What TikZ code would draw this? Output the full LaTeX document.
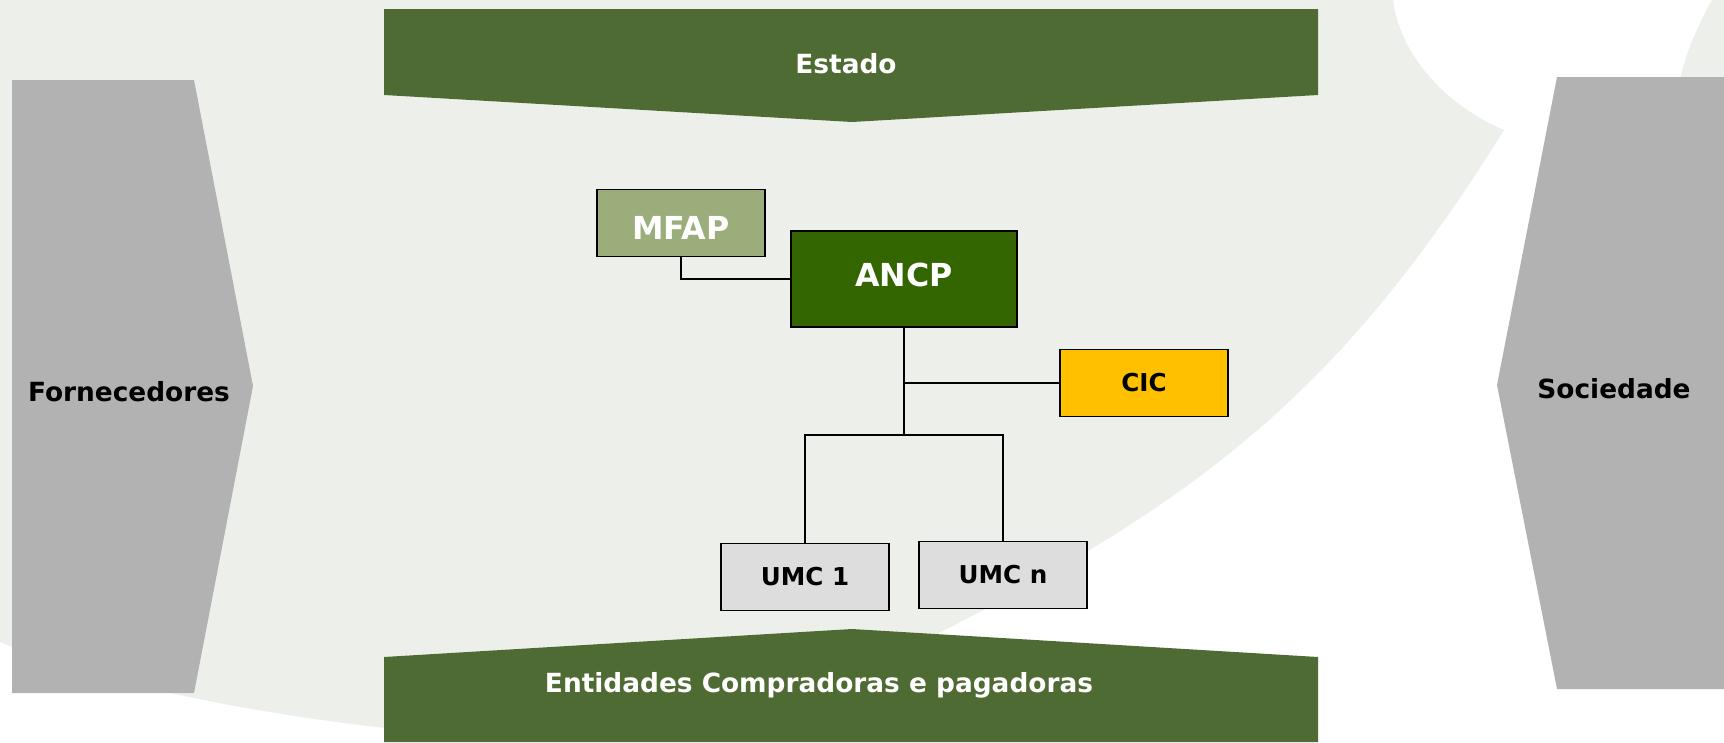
\documentclass[tikz,border=0pt]{standalone}
\usepackage{fontspec}
\setmainfont{DejaVu Sans}
\usepackage{xcolor}
\usetikzlibrary{arrows}
\usetikzlibrary{backgrounds}

\definecolor{fundo}{HTML}{EDEFEA}
\definecolor{verde}{HTML}{4E6B34}
\definecolor{verdeesc}{HTML}{336600}
\definecolor{verdecla}{HTML}{9BAD7A}
\definecolor{amarelo}{HTML}{FFC000}
\definecolor{cinza}{HTML}{B2B2B2}
\definecolor{cinzacla}{HTML}{DDDDDD}

\tikzset{
  rotulo/.style={font=\bfseries\fontsize{7.5}{9}\selectfont},
  caixa/.style={draw=black,line width=0.5pt,inner sep=0pt,minimum width=1.68cm,minimum height=0.67cm},
  liga/.style={draw=black,line width=0.4pt}
}

\begin{document}
\begin{tikzpicture}[x=0.01cm,y=-0.01cm]
  \useasboundingbox (0,0) rectangle (1724,742);
  \fill[white] (0,0) rectangle (1724,742);

  % fundo
  \fill[fundo] (0,0) -- (1393,0) .. controls (1400,55) and (1445,105) .. (1504,130)
    .. controls (1345,385) and (1208,495) .. (941,632)
    .. controls (850,680) and (700,745) .. (500,738)
    .. controls (300,725) and (120,690) .. (0,642) -- cycle;
  \fill[fundo] (1712,0) .. controls (1698,25) and (1686,52) .. (1680,80) -- (1724,80) -- (1724,0) -- cycle;

  % faixas e setas
  \fill[verde] (384,9) -- (1318,9) -- (1318,95) -- (852,122) -- (384,95) -- cycle;
  \fill[verde] (384,742) -- (384,657) -- (852,629) -- (1318,657) -- (1318,742) -- cycle;
  \fill[cinza] (12,80) -- (194,80) -- (253,386) -- (194,693) -- (12,693) -- cycle;
  \fill[cinza] (1724,77) -- (1557,77) -- (1497,385) -- (1557,689) -- (1724,689) -- cycle;

  \begin{scope}[every node/.style={rotulo}]
    \node (estado) [text=white] at (846,64) {Estado};
    \node (ent) [text=white] at (819,685) {Entidades Compradoras e pagadoras};
    \node (forn) at (129,392) {Fornecedores};
    \node (soc) at (1614,389) {Sociedade};
  \end{scope}

  \begin{scope}[every node/.style={caixa}]
    \node (mfap) [fill=verdecla,text=white,font=\bfseries\fontsize{9}{11}\selectfont,
      text height=9.4pt,text depth=0pt] at (681,223) {MFAP};
    \node (ancp) [fill=verdeesc,text=white,font=\bfseries\fontsize{9}{11}\selectfont,
      text height=6.6pt,text depth=2.3pt,minimum width=2.26cm,minimum height=0.96cm] at (904,279) {ANCP};
    \node (cic) [fill=amarelo,font=\bfseries\fontsize{7}{9}\selectfont] at (1144,383) {CIC};
    \node (umc1) [fill=cinzacla,font=\bfseries\fontsize{7}{9}\selectfont] at (805,577) {UMC 1};
    \node (umcn) [fill=cinzacla,font=\bfseries\fontsize{7}{9}\selectfont] at (1003,575) {UMC n};
  \end{scope}

  \coordinate (hub) at (904,435);
  \path [liga] (mfap.south) |- (ancp.west);
  \path [liga] (ancp.south) -- (hub);
  \path [liga] (ancp.south |- cic.west) -- (cic.west);
  \path [liga] (hub) -| (umc1.north);
  \path [liga] (hub) -| (umcn.north);
\end{tikzpicture}
\end{document}
